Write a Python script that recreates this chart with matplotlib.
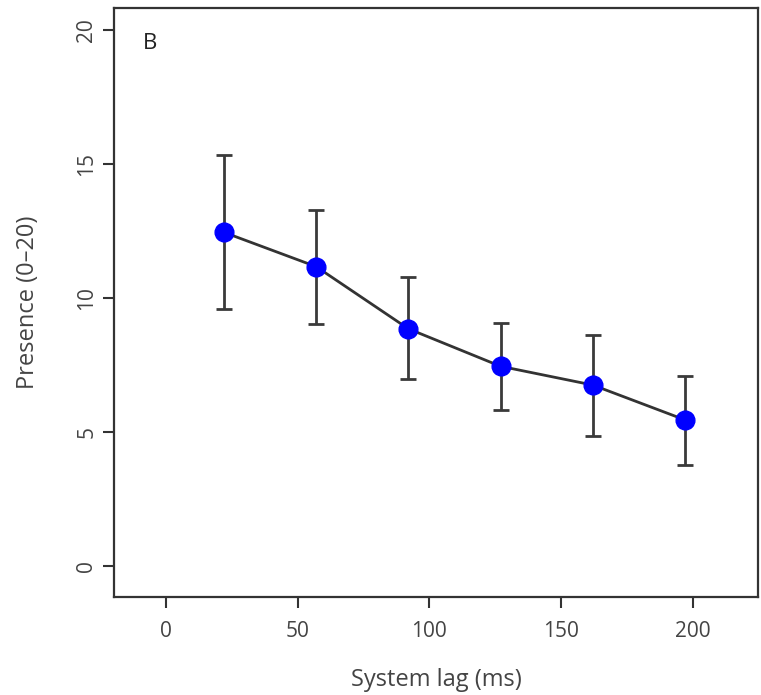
import matplotlib
matplotlib.use('Agg')
import matplotlib.pyplot as plt

plt.rcParams['font.family'] = ['Open Sans', 'DejaVu Sans']

# system lag (ms) and mean presence score with error bar ends
lag = [22, 57, 92, 127, 162, 197]
presence = [12.45, 11.17, 8.85, 7.45, 6.75, 5.45]
upper = [15.34, 13.28, 10.77, 9.08, 8.62, 7.10]
lower = [9.59, 9.04, 6.99, 5.80, 4.85, 3.77]

x_ticks = [0, 50, 100, 150, 200]
y_ticks = [0, 5, 10, 15, 20]

err_lo = [p - l for p, l in zip(presence, lower)]
err_hi = [u - p for p, u in zip(presence, upper)]

fig = plt.figure(figsize=(7.61, 6.95), dpi=100)
ax = fig.add_axes([0.1498, 0.141, 0.8462, 0.8475])

ax.errorbar(lag, presence, yerr=[err_lo, err_hi], fmt='none',
            ecolor='#3a3a3a', elinewidth=2, capsize=6, capthick=2, zorder=2)
ax.plot(lag, presence, '-', color='#333333', lw=2, zorder=3)
ax.plot(lag, presence, 'o', color='#0000ff', ms=13.5, zorder=4)

ax.set_xlim(-19.7, 224.7)
ax.set_ylim(-1.16, 20.82)
ax.set_xticks(x_ticks)
ax.set_yticks(y_ticks)
ax.tick_params(axis='both', direction='out', length=8, width=1.5,
               color='#333333', labelsize=15, labelcolor='#444444')
ax.tick_params(axis='x', pad=9)
ax.tick_params(axis='y', pad=4)
for lab in ax.get_yticklabels():
    lab.set_rotation(90)
    lab.set_va('center')

for s in ax.spines.values():
    s.set_color('#333333')
    s.set_linewidth(1.6)

ax.text(0.045, 0.94, 'B', transform=ax.transAxes, fontsize=16,
        color='#222222', ha='left', va='center')

ax.set_xlabel('System lag (ms)', fontsize=17, color='#444444', labelpad=19)
ax.set_ylabel('Presence (0\u201320)', fontsize=17, color='#444444', labelpad=26)

fig.savefig('out.png', dpi=100)
